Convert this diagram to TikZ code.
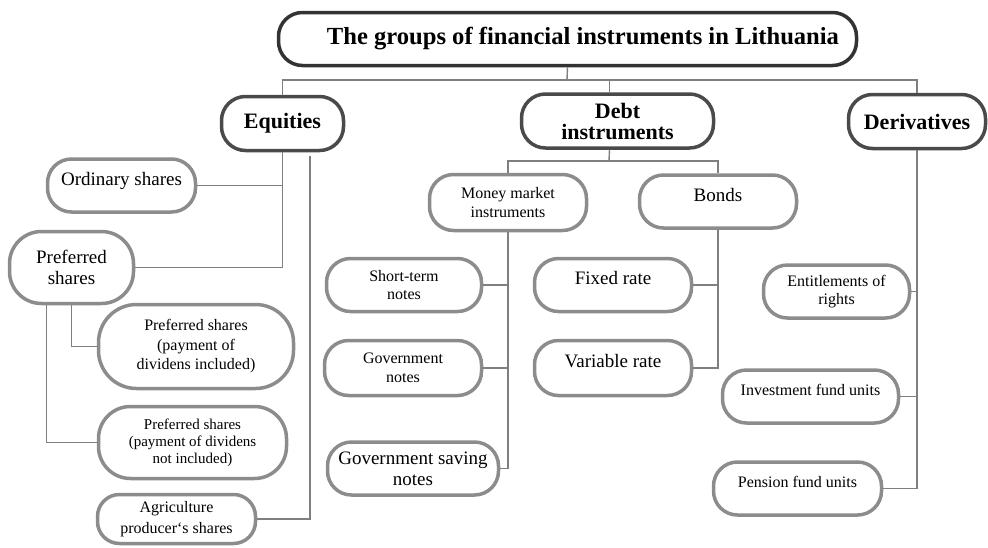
\documentclass[tikz,border=0pt]{standalone}
\usepackage{fontspec}
\setmainfont{Liberation Serif}

\definecolor{titleline}{HTML}{333333}
\definecolor{darkline}{HTML}{4A4A4A}
\definecolor{itemline}{HTML}{8C8C8C}
\definecolor{linkgrey}{HTML}{7F7F7F}

\begin{document}
\begin{tikzpicture}[
            x = 1pt, y = -1pt, % work in pixels, y grows downwards
            every node/.style = {align = center} % multi-line labels
        ]

        \tikzstyle{group}=[
            draw = darkline,
            line width = 3.5pt,
            fill = white,
            rounded corners = 24pt,
            minimum height = 54pt,
            font = \bfseries\fontsize{22}{21}\selectfont
        ]

        \tikzstyle{item}=[
            draw = itemline,
            line width = 3.5pt,
            fill = white,
            rounded corners = 24pt,
            minimum height = 53pt,
            font = \fontsize{16}{18.5}\selectfont
        ]

        \tikzstyle{big}=[font = \fontsize{19}{21}\selectfont]
        \tikzstyle{oneline}=[text depth = 14pt] % lift single lines a bit
        \tikzstyle{link}=[draw = linkgrey, line width = 1.4pt]

        \useasboundingbox (0,0) rectangle (988,547);

        % top level
        \node (title) [group, draw = titleline, minimum width = 578pt, minimum height = 53pt,
            font = \bfseries\fontsize{24.6}{26}\selectfont] at (567.5,39)
            {\hspace*{31pt}The groups of financial instruments in Lithuania};
        \node (eq) [group, minimum width = 122pt] at (282.5,123.5) {Equities};
        \node (debt) [group, minimum width = 192pt] at (617.5,121) {Debt\\instruments};
        \node (der) [group, minimum width = 137pt] at (917,121.5) {Derivatives};

        % equities
        \node (ord) [item, big, oneline, minimum width = 148pt] at (121.5,185.5) {Ordinary shares};
        \node (pref) [item, big, minimum width = 124pt, minimum height = 72pt, rounded corners = 32pt] at (71.5,267.5) {Preferred\\shares};
        \node (prefinc) [item, font = \fontsize{16}{19.5}\selectfont, minimum width = 195pt, minimum height = 84pt, rounded corners = 38pt] at (196,346.5) {Preferred shares\\(payment of\\dividens included)};
        \node (prefnot) [item, font = \fontsize{15}{17}\selectfont, minimum width = 188pt, minimum height = 72pt, rounded corners = 32pt] at (192.5,442.5) {Preferred shares\\(payment of dividens\\not included)};
        \node (agr) [item, font = \fontsize{16}{21}\selectfont, minimum width = 158pt, minimum height = 49pt, rounded corners = 22pt] at (176.5,519) {Agriculture\\producer‘s shares};

        % debt instruments
        \node (money) [item, minimum width = 157pt, minimum height = 56pt] at (508,202.5) {Money market\\instruments};
        \node (bonds) [item, big, oneline, minimum width = 157pt] at (718,201.5) {Bonds};
        \node (short) [item, minimum width = 155pt] at (404,285) {Short-term\\notes};
        \node (fixed) [item, big, oneline, minimum width = 157pt] at (613,285) {Fixed rate};
        \node (govn) [item, minimum width = 157pt, minimum height = 55pt] at (403,368) {Government\\notes};
        \node (var) [item, big, oneline, minimum width = 157pt, minimum height = 55pt] at (613,368) {Variable rate};
        \node (govs) [item, big, minimum width = 171pt] at (413,468.5) {Government saving\\notes};

        % derivatives
        \node (ent) [item, minimum width = 146pt] at (836.5,291.5) {Entitlements of\\rights};
        \node (inv) [item, oneline, minimum width = 176pt] at (810.5,396.5) {Investment fund units};
        \node (pen) [item, oneline, minimum width = 168pt] at (797.5,488.5) {Pension fund units};

        \coordinate (top) at (567,80);
        \coordinate (debtjoin) at (609,161);
        \coordinate (eqside) at (310,156);

        \draw [link] (title.south) -- (top);
        \draw [link] (top) -| (eq.north);
        \draw [link] (top) -| ([xshift=-8pt]debt.north);
        \draw [link] (top) -| (der.north);

        \draw [link] (eq.south) |- (ord.east);
        \draw [link] (eq.south) |- (pref.east);
        \draw [link] (eqside) |- (agr.east);
        \draw [link] (pref.south) |- (prefinc.west);
        \draw [link] ([xshift=-25pt]pref.south) |- (prefnot.west);

        \draw [link] ([xshift=-8pt]debt.south) -- (debtjoin);
        \draw [link] (debtjoin) -| (money.north);
        \draw [link] (debtjoin) -| (bonds.north);
        \draw [link] (money.south) |- (short.east);
        \draw [link] (money.south) |- (govn.east);
        \draw [link] (money.south) |- (govs.east);
        \draw [link] (bonds.south) |- (fixed.east);
        \draw [link] (bonds.south) |- (var.east);

        \draw [link] (der.south) |- (ent.east);
        \draw [link] (der.south) |- (inv.east);
        \draw [link] (der.south) |- (pen.east);

    \end{tikzpicture}
\end{document}
